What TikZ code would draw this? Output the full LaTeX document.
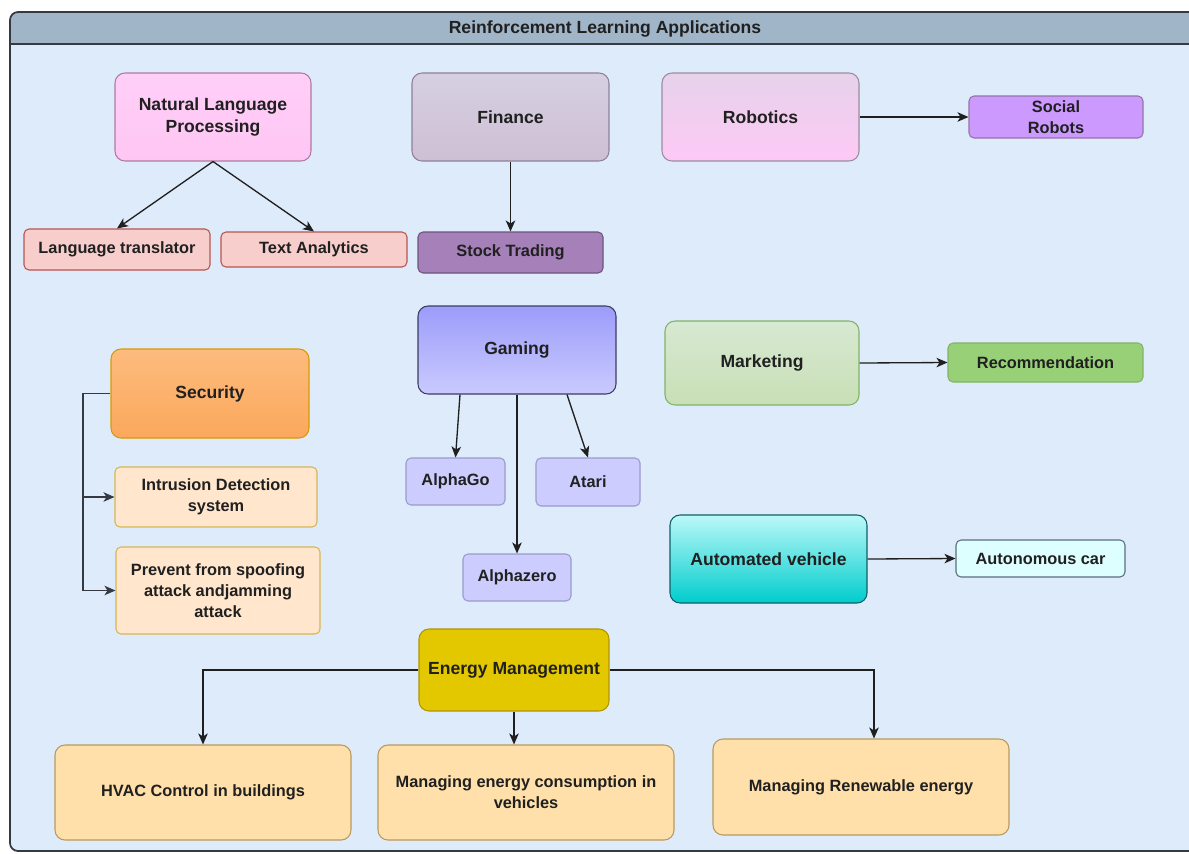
\documentclass[tikz,border=0pt]{standalone}
\usepackage{fontspec}
\setmainfont{Liberation Sans}
\usetikzlibrary{arrows.meta,calc}
\newcommand{\pxu}{0.02cm}
\definecolor{bgc}{HTML}{DEEBFB}
\definecolor{titlec}{HTML}{A1B5C9}
\definecolor{framec}{HTML}{343A40}
\definecolor{txt}{HTML}{202020}
\definecolor{nlpt}{HTML}{FFCFF8}\definecolor{nlpb}{HTML}{FFC6F3}\definecolor{nlpd}{HTML}{B07A9F}
\definecolor{fint}{HTML}{D6CFE2}\definecolor{finb}{HTML}{CEBFD4}\definecolor{find}{HTML}{8E8296}
\definecolor{robt}{HTML}{E6D2EA}\definecolor{robb}{HTML}{FDC9F6}\definecolor{robd}{HTML}{9C8C9E}
\definecolor{socf}{HTML}{CC99FF}\definecolor{socd}{HTML}{9673A6}
\definecolor{redf}{HTML}{F8CECC}\definecolor{redd}{HTML}{B85450}
\definecolor{stf}{HTML}{A680B8}\definecolor{std}{HTML}{6E5280}
\definecolor{gamt}{HTML}{9C9CFA}\definecolor{gamb}{HTML}{CACAFF}\definecolor{gamd}{HTML}{3C3C64}
\definecolor{alf}{HTML}{CCCCFF}\definecolor{ald}{HTML}{9A9ACC}
\definecolor{sect}{HTML}{FDBB7E}\definecolor{secb}{HTML}{FBA85C}\definecolor{secd}{HTML}{D79B00}
\definecolor{orf}{HTML}{FFE6CC}\definecolor{ord}{HTML}{D6B656}
\definecolor{mktt}{HTML}{D7E9D2}\definecolor{mktb}{HTML}{C8DFB6}\definecolor{mktd}{HTML}{82B366}
\definecolor{recf}{HTML}{97D077}
\definecolor{avt}{HTML}{BCF8F8}\definecolor{avb}{HTML}{00CCCC}\definecolor{avd}{HTML}{0E6068}
\definecolor{acf}{HTML}{DDFFFF}\definecolor{acd}{HTML}{5A7080}
\definecolor{emf}{HTML}{E3C800}\definecolor{emd}{HTML}{B09500}
\definecolor{enf}{HTML}{FFE0AA}\definecolor{end}{HTML}{B89A5E}
\begin{document}
\begin{tikzpicture}[x=0.02cm,y=-0.02cm,
  base/.style={draw, inner sep=0pt, align=center, text=txt, line width=0.6pt},
  big/.style={base, rounded corners=0.2cm, font=\bfseries\fontsize{10}{12.5}\selectfont},
  small/.style={base, rounded corners=0.1cm, font=\bfseries\fontsize{9.3}{11.9}\selectfont},
  arr/.style={-{Stealth[length=0.22cm,width=0.19cm,inset=0.06cm]}, line width=0.75pt, draw=black!88},
  sz/.style 2 args={minimum width=#1*\pxu, minimum height=#2*\pxu}
]
\useasboundingbox (0,0) rectangle (1189,853);
\fill[white] (0,0) rectangle (1189,853);
\begin{scope}
\clip (0,0) rectangle (1189,853);
\path[fill=bgc, rounded corners=0.16cm] (10,12) rectangle (1220,851);
\begin{scope}
\clip[rounded corners=0.16cm] (10,12) rectangle (1220,851);
\fill[titlec] (10,12) rectangle (1220,44);
\end{scope}
\draw[framec, line width=1pt] (10,44) -- (1220,44);
\draw[framec, line width=1pt, rounded corners=0.16cm] (10,12) rectangle (1220,851);
\end{scope}
\node[font=\bfseries\fontsize{10}{12}\selectfont, text=txt] (title) at (605,29) {Reinforcement Learning Applications};

% top row
\node[big, sz={196}{88}, draw=nlpd, top color=nlpt, bottom color=nlpb] (nlp) at (213,117) {Natural Language\\Processing};
\node[big, sz={197}{88}, draw=find, top color=fint, bottom color=finb] (fin) at (510.5,117) {Finance};
\node[big, sz={197}{88}, draw=robd, top color=robt, bottom color=robb] (rob) at (760.5,117) {Robotics};
\node[small, sz={174}{42}, draw=socd, fill=socf] (soc) at (1056,117) {Social\\Robots};
\node[small, sz={186}{41}, draw=redd, fill=redf] (lt) at (117,249.5) {Language translator};
\node[small, sz={186}{35}, draw=redd, fill=redf] (ta) at (314,249.5) {Text Analytics};
\node[small, sz={185}{41}, draw=std, fill=stf] (st) at (510.5,252.5) {Stock Trading};

% gaming
\node[big, sz={198}{88}, draw=gamd, top color=gamt, bottom color=gamb] (gam) at (517,350) {Gaming};
\node[small, sz={99}{47}, draw=ald, fill=alf] (ago) at (455.5,481.5) {AlphaGo};
\node[small, sz={104}{48}, draw=ald, fill=alf] (atr) at (588,482) {Atari};
\node[small, sz={108}{47}, draw=ald, fill=alf] (az) at (517,577.5) {Alphazero};

% security
\node[big, sz={198}{89}, draw=secd, top color=sect, bottom color=secb] (sec) at (210,393.5) {Security};
\node[small, sz={202}{60}, draw=ord, fill=orf] (ids) at (216,497) {Intrusion Detection\\system};
\node[small, sz={204}{87}, draw=ord, fill=orf] (pre) at (218,590.5) {Prevent from spoofing\\attack andjamming\\attack};

% marketing, vehicle
\node[big, sz={194}{84}, draw=mktd, top color=mktt, bottom color=mktb] (mkt) at (762,363) {Marketing};
\node[small, sz={195}{39}, draw=mktd, fill=recf] (rec) at (1045.5,362.5) {Recommendation};
\node[big, sz={197}{88}, draw=avd, top color=avt, bottom color=avb] (av) at (768.5,559) {Automated vehicle};
\node[small, sz={169}{37}, draw=acd, fill=acf] (ac) at (1040.5,558.5) {Autonomous car};

% energy
\node[big, sz={190}{82}, draw=emd, fill=emf] (em) at (514,670) {Energy Management};
\node[small, sz={296}{95}, draw=end, fill=enf, rounded corners=0.2cm] (hvac) at (203,792.5) {HVAC Control in buildings};
\node[small, sz={296}{95}, draw=end, fill=enf, rounded corners=0.2cm] (mec) at (526,792.5) {Managing energy consumption in\\vehicles};
\node[small, sz={296}{96}, draw=end, fill=enf, rounded corners=0.2cm] (mre) at (861,787) {Managing Renewable energy};

% connectors
\draw[arr] (nlp.south) -- (lt.north);
\draw[arr] (nlp.south) -- (ta.north);
\draw[arr] (fin.south) -- (st.north);
\draw[arr] (rob.east) -- (soc.west);
\draw[arr] ([xshift=-57*\pxu]gam.south) -- (ago.north);
\draw[arr] ([xshift=50*\pxu]gam.south) -- (atr.north);
\draw[arr] (gam.south) -- (az.north);
\coordinate (sj) at (83,393.5);
\draw[arr, draw=framec] (sec.west) -- (sj) |- (ids.west);
\draw[arr, draw=framec] (sj) |- (pre.west);
\draw[arr] (mkt.east) -- (rec.west);
\draw[arr] (av.east) -- (ac.west);
\draw[arr] (em.west) -| (hvac.north);
\draw[arr] (em.south) -- (em.south |- mec.north);
\draw[arr] (em.east) -| ([xshift=13*\pxu]mre.north);
\end{tikzpicture}
\end{document}
